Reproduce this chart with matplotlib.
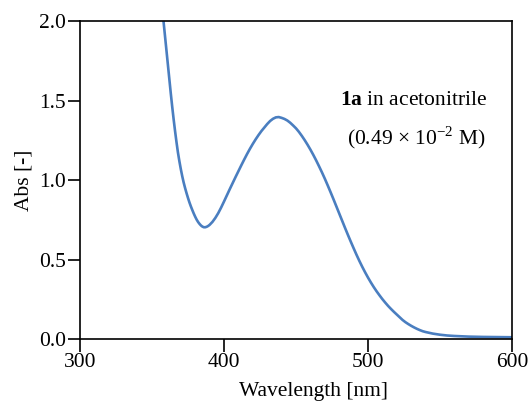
import numpy as np
import matplotlib
matplotlib.use("Agg")
import matplotlib.pyplot as plt

# absorption spectrum
wavelength = [357, 358, 359, 360, 361, 362, 363, 364, 365, 366, 367, 368, 369, 370, 371,
              372, 373, 374, 375, 376, 377, 378, 379, 380, 381, 382, 383, 384, 385, 386,
              387, 388, 389, 390, 392, 394, 396, 398, 400, 402, 404, 406, 408, 410, 412,
              414, 416, 418, 420, 422, 424, 426, 428, 430, 432, 434, 436, 438, 440, 442,
              444, 446, 448, 450, 452, 454, 456, 458, 460, 462, 464, 466, 468, 470, 472,
              474, 476, 478, 480, 482, 484, 486, 488, 490, 492, 494, 496, 498, 500, 502,
              504, 506, 508, 510, 512, 514, 516, 518, 520, 522, 524, 526, 528, 530, 532,
              534, 536, 538, 540, 545, 550, 555, 560, 570, 580, 590, 600]
absorbance = [2.09, 2.00, 1.91, 1.82, 1.73, 1.64, 1.55, 1.465, 1.385, 1.31, 1.24, 1.175, 1.12, 1.07, 1.025,
              0.985, 0.95, 0.918, 0.888, 0.86, 0.835, 0.812, 0.79, 0.77, 0.752, 0.737, 0.725, 0.715, 0.708, 0.704,
              0.704, 0.707, 0.712, 0.719, 0.738, 0.763, 0.793, 0.828, 0.866, 0.905, 0.944, 0.982, 1.020, 1.057, 1.094,
              1.130, 1.165, 1.198, 1.229, 1.258, 1.285, 1.310, 1.332, 1.354, 1.373, 1.387, 1.396, 1.398, 1.393, 1.386,
              1.376, 1.362, 1.345, 1.327, 1.305, 1.28, 1.253, 1.224, 1.193, 1.16, 1.125, 1.088, 1.05, 1.01, 0.968,
              0.925, 0.881, 0.836, 0.791, 0.746, 0.701, 0.657, 0.614, 0.572, 0.531, 0.492, 0.455, 0.42, 0.387, 0.356,
              0.327, 0.30, 0.275, 0.251, 0.229, 0.208, 0.189, 0.171, 0.154, 0.137, 0.12, 0.106, 0.094, 0.083, 0.073,
              0.064, 0.056, 0.049, 0.044, 0.034, 0.027, 0.022, 0.019, 0.015, 0.013, 0.012, 0.011]

xticks = [300, 400, 500, 600]
yticks = [0.0, 0.5, 1.0, 1.5, 2.0]

plt.rcParams['font.family'] = ['Liberation Serif', 'DejaVu Serif']
plt.rcParams['font.size'] = 15.5
plt.rcParams['mathtext.fontset'] = 'custom'
plt.rcParams['mathtext.rm'] = 'Liberation Serif'
plt.rcParams['mathtext.bf'] = 'Liberation Serif:bold'

fig = plt.figure(figsize=(5.31, 4.03), dpi=100)
ax = fig.add_axes([0.1507, 0.1588, 0.8135, 0.7879])

ax.plot(wavelength, absorbance, color='#4a7ec0', lw=1.9, solid_capstyle='round')

ax.set_xlim(300, 600)
ax.set_ylim(0, 2.0)
ax.set_xticks(xticks)
ax.set_yticks(yticks)
ax.set_yticklabels(['%.1f' % v for v in yticks])
ax.tick_params(direction='out', length=9, width=1.2, labelsize=15.5, pad=1)
for s in ax.spines.values():
    s.set_linewidth(1.2)

ax.set_xlabel("Wavelength [nm]", fontsize=15.5, labelpad=7, x=0.54)
ax.set_ylabel("Abs [-]", fontsize=15.5, labelpad=4)

ax.text(0.773, 0.75, r"$\mathbf{1a}$ in acetonitrile", transform=ax.transAxes,
        ha='center', va='center')
ax.text(0.779, 0.633, "(0.49 \u00d7 10$^{\u22122}$ M)", transform=ax.transAxes,
        ha='center', va='center')

plt.savefig("out.png", dpi=100)
